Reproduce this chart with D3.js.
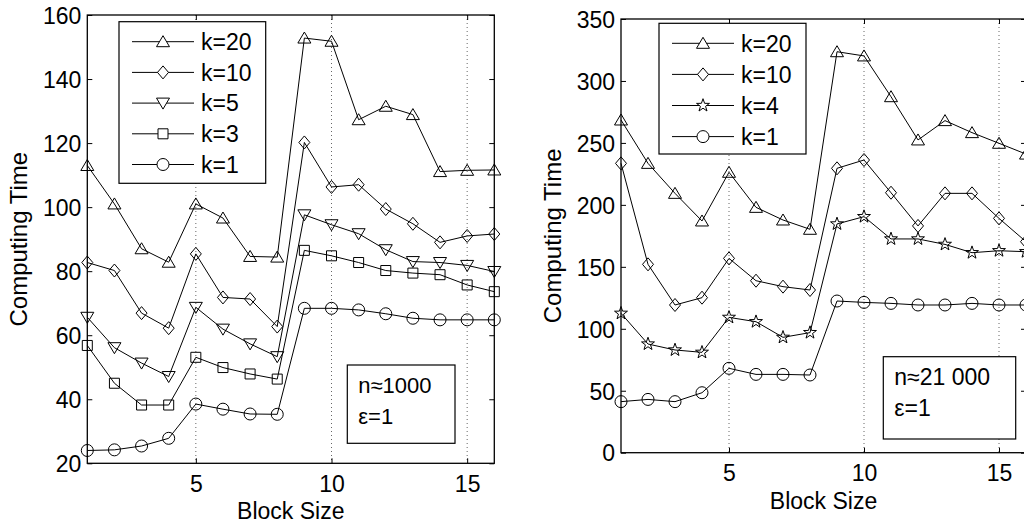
<!DOCTYPE html>
<html>
<head>
<meta charset="utf-8">
<script src="https://cdn.jsdelivr.net/npm/d3@7"></script>
<style>
  body { margin: 0; background: #fff; }
  svg { display: block; }
  text { font-family: "Liberation Sans", Arial, sans-serif; fill: #000; }
</style>
</head>
<body>
<div id="wrapper"></div>
<script>
// block sizes on the x axis
const blockSizes = [1, 2, 3, 4, 5, 6, 7, 8, 9, 10, 11, 12, 13, 14, 15, 16];
const xTicks = [5, 10, 15];

// left panel, n≈1000
const leftK20 = [113, 101, 87, 82.8, 101, 96.6, 84.6, 84.4, 152.8, 151.8, 127.3, 131.5, 128.9, 111.1, 111.5, 111.6];
const leftK10 = [82.7, 80.2, 66.9, 62.2, 85.4, 71.8, 71.3, 62.7, 120.2, 106.3, 107, 99.4, 94.8, 89, 91, 91.6];
const leftK5  = [65.6, 56.1, 51.3, 47.1, 68.7, 61.9, 57.3, 53.3, 97.6, 94.5, 91.7, 86.7, 83, 82.7, 81.8, 79.9];
const leftK3  = [56.8, 45, 38.2, 38.2, 53.1, 49.9, 47.9, 46.3, 86.5, 84.8, 82.7, 80.2, 79.4, 78.9, 75.7, 73.6];
const leftK1  = [24, 24.2, 25.4, 27.8, 38.5, 36.9, 35.4, 35.3, 68.4, 68.4, 67.9, 66.7, 65.3, 64.8, 64.8, 64.8];
const leftYTicks = [20, 40, 60, 80, 100, 120, 140, 160];

// right panel, n≈21 000
const rightK20 = [268.5, 233.5, 209.3, 187, 226.3, 198, 187.8, 180.3, 323.6, 320.2, 287.3, 252.4, 268, 258.3, 249.7, 241];
const rightK10 = [233.5, 152, 119.2, 125.1, 156.8, 138.8, 134, 131.3, 229.5, 236.2, 209.8, 183, 209.3, 209.3, 189.1, 170.3];
const rightK4  = [112.5, 87.7, 82.9, 81, 109.2, 105.7, 93.1, 96.9, 184.6, 190.5, 172.5, 172.5, 168.1, 161.4, 163, 162.2];
const rightK1  = [41.2, 43, 41.2, 48.4, 68.1, 63.2, 63.2, 62.7, 122.4, 121.3, 120.5, 119.2, 119.2, 120.5, 119.2, 119.2];
const rightYTicks = [0, 50, 100, 150, 200, 250, 300, 350];

// marker shapes
const markers = {
  triUp: "M0,-6L6.5,5L-6.5,5Z",
  triDown: "M0,6L6.5,-5L-6.5,-5Z",
  diamond: "M0,-6.5L5.5,0L0,6.5L-5.5,0Z",
  square: "M-5,-5H5V5H-5Z",
  circle: "M6,0A6,6 0 1,1 -6,0A6,6 0 1,1 6,0Z",
  star: (() => {
    const pts = d3.range(10).map(i => {
      const r = i % 2 ? 2.7 : 6.8
      const a = -Math.PI / 2 + i * Math.PI / 5
      return [r * Math.cos(a), r * Math.sin(a)]
    })
    return "M" + pts.map(p => p.join(",")).join("L") + "Z"
  })(),
}

const svg = d3.select("#wrapper")
  .append("svg")
    .attr("width", 1024)
    .attr("height", 523)

function drawPanel(p) {
  const x = d3.scaleLinear().domain([1, 16]).range([p.left, p.right])
  const y = d3.scaleLinear().domain(p.yDomain).range([p.bottom, p.top])
  const g = svg.append("g")

  // dotted grid at x ticks
  g.selectAll(".grid")
    .data(xTicks)
    .enter().append("line")
      .attr("x1", d => x(d)).attr("x2", d => x(d))
      .attr("y1", p.top).attr("y2", p.bottom)
      .attr("stroke", "#666")
      .attr("stroke-width", 1)
      .attr("stroke-dasharray", "1,3")

  // axes, ticks inside on every side
  const tl = 5
  const axB = g.append("g").attr("transform", `translate(0,${p.bottom})`)
    .call(d3.axisBottom(x).tickValues(xTicks).tickSizeInner(-tl).tickSizeOuter(0))
  const axT = g.append("g").attr("transform", `translate(0,${p.top})`)
    .call(d3.axisTop(x).tickValues(xTicks).tickSizeInner(-tl).tickSizeOuter(0).tickFormat(""))
  const axL = g.append("g").attr("transform", `translate(${p.left},0)`)
    .call(d3.axisLeft(y).tickValues(p.yTicks).tickSizeInner(-tl).tickSizeOuter(0).tickPadding(6))
  const axR = g.append("g").attr("transform", `translate(${p.right},0)`)
    .call(d3.axisRight(y).tickValues(p.yTicks).tickSizeInner(-tl).tickSizeOuter(0).tickFormat(""))
  ;[axB, axT, axL, axR].forEach(a => {
    a.select(".domain").remove()
    a.selectAll("line").attr("stroke", "#000").attr("stroke-width", 1)
    a.selectAll("text")
      .attr("font-family", "Liberation Sans, Arial, sans-serif")
      .attr("font-size", "23px")
      .attr("fill", "#000")
  })
  axB.selectAll("text").attr("dy", null).attr("y", 28.5)
  axL.selectAll("text").attr("dy", "0.36em")

  // frame
  g.append("rect")
    .attr("x", p.left).attr("y", p.top)
    .attr("width", p.right - p.left).attr("height", p.bottom - p.top)
    .attr("fill", "none").attr("stroke", "#000").attr("stroke-width", 1.3)

  // series
  const line = d3.line().x((d, i) => x(blockSizes[i])).y(d => y(d))
  p.series.forEach(s => {
    g.append("path")
      .attr("d", line(s.values))
      .attr("fill", "none").attr("stroke", "#000").attr("stroke-width", 1)
    g.selectAll(null)
      .data(s.values)
      .enter().append("path")
        .attr("d", markers[s.marker])
        .attr("transform", (d, i) => `translate(${x(blockSizes[i])},${y(d)})`)
        .attr("fill", "none").attr("stroke", "#000").attr("stroke-width", 1)
  })

  // axis labels
  g.append("text")
    .attr("x", (p.left + p.right) / 2).attr("y", p.bottom + 56)
    .attr("text-anchor", "middle").attr("font-size", "23px")
    .text("Block Size")
  g.append("text")
    .attr("transform", `translate(${p.yLabelX},${(p.top + p.bottom) / 2}) rotate(-90)`)
    .attr("text-anchor", "middle").attr("font-size", "24px")
    .text("Computing Time")

  // legend
  const lg = p.legend
  g.append("rect")
    .attr("x", lg.x).attr("y", lg.y).attr("width", lg.w).attr("height", lg.h)
    .attr("fill", "#fff").attr("stroke", "#000").attr("stroke-width", 1.2)
  p.series.forEach((s, i) => {
    const ly = lg.y + 20 + i * lg.step
    g.append("line")
      .attr("x1", lg.x + 13).attr("x2", lg.x + 75)
      .attr("y1", ly).attr("y2", ly)
      .attr("stroke", "#000").attr("stroke-width", 1)
    g.append("path")
      .attr("d", markers[s.marker])
      .attr("transform", `translate(${lg.x + 44},${ly})`)
      .attr("fill", "#fff").attr("stroke", "#000").attr("stroke-width", 1)
    g.append("text")
      .attr("x", lg.x + 82).attr("y", ly).attr("dy", "0.36em")
      .attr("font-size", "23px")
      .text(s.name)
  })

  // note box
  const nb = p.note
  g.append("rect")
    .attr("x", nb.x).attr("y", nb.y).attr("width", nb.w).attr("height", nb.h)
    .attr("fill", "#fff").attr("stroke", "#000").attr("stroke-width", 1.2)
  nb.lines.forEach((t, i) => {
    g.append("text")
      .attr("x", nb.x + 11).attr("y", nb.y + 28 + i * 31)
      .attr("font-size", nb.fs)
      .text(t)
  })
}

drawPanel({
  left: 87.3, right: 494.3, top: 15, bottom: 463.3,
  yDomain: [20, 160], yTicks: leftYTicks, yLabelX: 27,
  series: [
    { name: "k=20", values: leftK20, marker: "triUp" },
    { name: "k=10", values: leftK10, marker: "diamond" },
    { name: "k=5", values: leftK5, marker: "triDown" },
    { name: "k=3", values: leftK3, marker: "square" },
    { name: "k=1", values: leftK1, marker: "circle" },
  ],
  legend: { x: 119, y: 21.7, w: 146.7, h: 161.6, step: 30.7 },
  note: { x: 347.3, y: 365, w: 107.7, h: 78.3, lines: ["n≈1000", "ε=1"], fs: "22px" },
})

drawPanel({
  left: 621, right: 1026, top: 19, bottom: 452.7,
  yDomain: [0, 350], yTicks: rightYTicks, yLabelX: 561,
  series: [
    { name: "k=20", values: rightK20, marker: "triUp" },
    { name: "k=10", values: rightK10, marker: "diamond" },
    { name: "k=4", values: rightK4, marker: "star" },
    { name: "k=1", values: rightK1, marker: "circle" },
  ],
  legend: { x: 659, y: 23.3, w: 147, h: 130.7, step: 31.1 },
  note: { x: 883.3, y: 356.7, w: 132.4, h: 82.3, lines: ["n≈21 000", "ε=1"], fs: "23px" },
})
</script>
</body>
</html>
